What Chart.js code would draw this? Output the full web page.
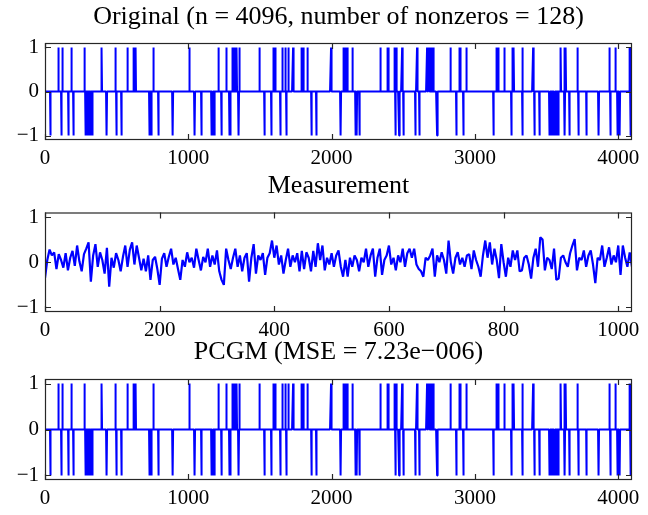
<!DOCTYPE html>
<html>
<head>
<meta charset="utf-8">
<script src="https://cdn.jsdelivr.net/npm/chart.js@4/dist/chart.umd.min.js"></script>
<style>
  body { margin: 0; background: #fff; width: 648px; height: 515px; position: relative; overflow: hidden; }
  canvas { position: absolute; left: 0; }
</style>
</head>
<body>
<canvas id="c1" width="648" height="175" style="top:0px"></canvas>
<canvas id="c2" width="648" height="175" style="top:170px"></canvas>
<canvas id="c3" width="648" height="179" style="top:336px"></canvas>
<script>
// signal length and spike positions (+1 / -1)
const n = 4096;
const upIdx = [92, 120, 183, 276, 397, 492, 578, 620, 634, 758,
  1010, 1212, 1265, 1311, 1316, 1323, 1339, 1358, 1498, 1596, 1610,
  1656, 1679, 1698, 1731, 1791, 1805, 1831, 1996, 2085, 2096,
  2112, 2145, 2341, 2390, 2399, 2440, 2452, 2492, 2596, 2666,
  2680, 2697, 2711, 2832, 2890, 2899, 2941, 3151, 3162, 3204,
  3262, 3272, 3330, 3406, 3600, 3623, 3635, 3716, 3940, 3982,
  4080, 4093];
const downIdx = [38, 113, 164, 197, 281, 295, 306, 318, 322, 330, 432,
  499, 534, 730, 742, 793, 893, 1046, 1093, 1160, 1172,
  1184, 1230, 1288, 1295, 1353, 1533, 1580, 1645, 1684, 1861,
  1894, 2065, 2168, 2177, 2196, 2444, 2471, 2503, 2587, 2615,
  2736, 2871, 2922, 3130, 3256, 3334, 3418, 3453, 3523, 3535,
  3546, 3558, 3570, 3581, 3628, 3658, 3721, 3779, 3865, 3945,
  3996, 4012, 4085, 4090];

// measurement (1024 samples, read every 4th)
const mStep = 4;
const measurement = [
  -0.35, 0.05, 0.28, 0.15, 0.22, -0.15, 0.18, 0.05, -0.12, 0.2, -0.18, 0.1, 0.25, -0.08, 0.37, 0.02,
  -0.2, 0.18, 0.3, 0.44, -0.43, 0.15, 0.4, -0.1, 0.22, 0.05, -0.25, 0.32, -0.54, 0.1, -0.12, 0.2,
  0.05, -0.2, 0.12, 0.37, -0.1, 0.28, 0.44, -0.05, 0.37, 0.1, -0.18, 0.08, -0.2, 0.15, -0.39, 0.05,
  0.12, -0.15, -0.5, 0.08, 0.2, -0.1, 0.12, 0.3, -0.05, 0.1, -0.15, -0.39, 0.05, -0.1, 0.22, 0.0,
  0.1, -0.12, 0.3, 0.05, -0.18, 0.12, 0.0, 0.3, -0.1, 0.15, -0.05, 0.26, -0.2, -0.39, -0.5, 0.3,
  0.05, -0.15, 0.1, 0.3, -0.1, 0.15, -0.2, 0.1, 0.2, -0.43, 0.1, 0.4, -0.25, 0.15, 0.05, 0.2,
  -0.28, 0.1, 0.2, 0.48, 0.1, 0.37, -0.05, 0.15, -0.25, 0.05, 0.3, -0.1, 0.15, 0.0, 0.2, -0.2,
  0.25, -0.15, 0.22, 0.1, -0.2, 0.25, -0.1, 0.42, 0.05, 0.37, -0.18, 0.1, -0.05, 0.2, -0.1, 0.15,
  0.26, -0.1, -0.32, 0.05, -0.32, 0.1, -0.1, 0.15, 0.05, -0.2, 0.1, 0.0, 0.3, -0.1, 0.15, 0.3,
  -0.32, 0.1, 0.3, -0.28, 0.05, 0.15, 0.37, -0.05, 0.1, -0.18, 0.15, 0.0, 0.3, -0.1, 0.2, 0.3,
  0.1, 0.3, -0.05, -0.15, -0.2, -0.32, 0.1, 0.05, 0.15, 0.3, -0.32, 0.15, 0.0, 0.22, 0.05, -0.25,
  0.48, 0.0, -0.25, 0.1, 0.22, -0.05, 0.1, -0.1, 0.15, 0.18, -0.15, 0.26, 0.05, -0.1, -0.32, 0.15,
  0.48, 0.1, 0.44, -0.05, 0.3, 0.05, -0.35, 0.4, 0.0, -0.32, 0.1, -0.1, 0.26, 0.05, 0.26, -0.2,
  -0.18, 0.1, 0.15, -0.05, -0.36, 0.1, 0.3, -0.1, 0.55, 0.5, -0.18, 0.1, 0.05, -0.15, 0.3, -0.39,
  -0.36, 0.1, 0.15, 0.0, -0.1, 0.2, 0.37, 0.51, -0.18, 0.1, 0.05, 0.26, -0.1, 0.15, 0.26, -0.05,
  -0.46, 0.1, 0.05, 0.37, -0.1, 0.1, 0.33, -0.05, 0.15, 0.0, 0.37, -0.28, 0.37, 0.1, -0.1, 0.22,
  -0.1
];

const titles = [
  'Original (n = 4096, number of nonzeros = 128)',
  'Measurement',
  'PCGM (MSE = 7.23e\u2212006)'
];
const xTicksLong = [0, 1000, 2000, 3000, 4000];
const xTicksShort = [0, 200, 400, 600, 800, 1000];
const yTicks = [-1, 0, 1];

function sparseSignal() {
  const y = new Array(n).fill(0);
  upIdx.forEach(i => { y[i] = 1; });
  downIdx.forEach(i => { y[i] = -1; });
  return y.map((v, i) => ({ x: i, y: v }));
}

const FONT = 'Liberation Serif, Times New Roman, serif';

// MATLAB-style box with ticks pointing inwards
const boxTicks = {
  id: 'boxTicks',
  afterDraw(chart) {
    const ctx = chart.ctx, a = chart.chartArea;
    const xs = chart.scales.x, ys = chart.scales.y;
    ctx.save();
    ctx.strokeStyle = '#262626';
    ctx.lineWidth = 1.2;
    ctx.strokeRect(a.left + 0.5, a.top + 0.5, a.right - a.left - 1, a.bottom - a.top - 1);
    ctx.beginPath();
    xs.ticks.forEach(t => {
      const px = Math.round(xs.getPixelForValue(t.value)) + 0.5;
      ctx.moveTo(px, a.bottom); ctx.lineTo(px, a.bottom - 6);
      ctx.moveTo(px, a.top); ctx.lineTo(px, a.top + 6);
    });
    ys.ticks.forEach(t => {
      const py = Math.round(ys.getPixelForValue(t.value)) + 0.5;
      ctx.moveTo(a.left, py); ctx.lineTo(a.left + 6, py);
      ctx.moveTo(a.right, py); ctx.lineTo(a.right - 6, py);
    });
    ctx.stroke();
    ctx.restore();
  }
};

function makeChart(id, title, data, xmax, xticks, titlePad, xAxisH, lw) {
  const canvas = document.getElementById(id);
  return new Chart(canvas.getContext('2d'), {
    type: 'line',
    data: {
      datasets: [{
        data: data,
        borderColor: '#0000ff',
        borderWidth: lw,
        borderJoinStyle: 'bevel',
        pointRadius: 0,
        tension: 0,
        fill: false
      }]
    },
    options: {
      responsive: false,
      animation: false,
      events: [],
      layout: { padding: { left: 0, right: 16, top: 0, bottom: 0 } },
      plugins: {
        legend: { display: false },
        tooltip: { enabled: false },
        title: {
          display: true,
          fullSize: false,   // centre over the axes box, like MATLAB
          text: title,
          color: '#000',
          font: { family: FONT, size: 26, weight: 'normal' },
          padding: titlePad
        }
      },
      scales: {
        x: {
          type: 'linear',
          min: 0,
          max: xmax,
          grid: { display: false, drawTicks: false },
          border: { display: false },
          afterBuildTicks: ax => { ax.ticks = xticks.map(v => ({ value: v })); },
          afterFit: ax => { ax.height = xAxisH; },
          ticks: {
            color: '#000',
            padding: 6,
            maxRotation: 0,
            font: { family: FONT, size: 21 },
            callback: v => String(v)
          }
        },
        y: {
          min: -1.1,
          max: 1.1,
          grid: { display: false, drawTicks: false },
          border: { display: false },
          afterBuildTicks: ax => { ax.ticks = yTicks.map(v => ({ value: v })); },
          afterFit: ax => { ax.width = 45; },
          ticks: {
            color: '#000',
            padding: 6,
            font: { family: FONT, size: 21 },
            callback: v => (v < 0 ? '\u2212' + Math.abs(v) : String(v))
          }
        }
      }
    },
    plugins: [boxTicks]
  });
}

const sig = sparseSignal();
const meas = measurement.map((v, i) => ({ x: i * mStep, y: v }));

makeChart('c1', titles[0], sig, n, xTicksLong, { top: 1.5, bottom: 10.3 }, 35, 2);
makeChart('c2', titles[1], meas, 1024, xTicksShort, { top: 0.5, bottom: 10.8 }, 33, 2.2);
makeChart('c3', titles[2], sig, n, xTicksLong, { top: 0.5, bottom: 11.3 }, 35, 2);
</script>
</body>
</html>
